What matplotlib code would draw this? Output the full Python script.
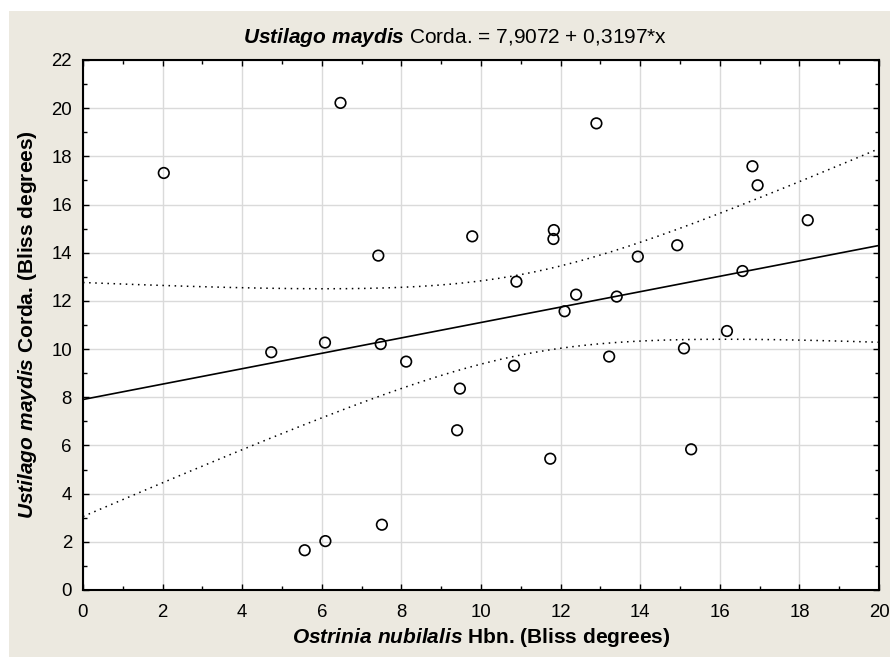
import numpy as np
import matplotlib
matplotlib.use("Agg")
import matplotlib.pyplot as plt
from matplotlib.patches import Rectangle
from matplotlib.ticker import MultipleLocator

# ---- data ----
x_ostrinia = [2.03, 6.47, 7.42, 4.73, 6.08, 7.48, 8.12, 5.57, 6.09, 7.51,
              9.78, 9.47, 9.40, 10.89, 10.83, 11.83, 11.82, 12.10, 11.74, 12.39,
              12.90, 13.41, 13.94, 13.22, 14.93, 15.10, 15.28, 16.18, 16.57, 16.82,
              16.95, 18.21]
y_ustilago = [17.31, 20.22, 13.88, 9.87, 10.27, 10.21, 9.48, 1.65, 2.03, 2.71,
              14.68, 8.36, 6.63, 12.80, 9.31, 14.94, 14.57, 11.57, 5.45, 12.26,
              19.37, 12.18, 13.84, 9.69, 14.31, 10.03, 5.84, 10.75, 13.24, 17.59,
              16.80, 15.35]
intercept = 7.9072
slope = 0.3197
t_crit = 2.042  # t(0.975, df=30)

xticks = [0, 2, 4, 6, 8, 10, 12, 14, 16, 18, 20]
yticks = [0, 2, 4, 6, 8, 10, 12, 14, 16, 18, 20, 22]

plt.rcParams['font.family'] = ['Liberation Sans', 'DejaVu Sans']
plt.rcParams['mathtext.fontset'] = 'custom'
plt.rcParams['mathtext.it'] = 'Liberation Sans:italic:bold'
plt.rcParams['mathtext.rm'] = 'Liberation Sans'
plt.rcParams['mathtext.bf'] = 'Liberation Sans:bold'

W, H = 890, 657
fig = plt.figure(figsize=(W / 100, H / 100), dpi=100, facecolor='white')
bg = '#ECE9E0'
fig.patches.append(Rectangle((9 / W, 0), 1 - 9 / W, (H - 11) / H,
                             transform=fig.transFigure, facecolor=bg,
                             edgecolor='none', zorder=-10))

left, right, top, bottom = 83, 879, 60, 590
ax = fig.add_axes([left / W, (H - bottom) / H, (right - left) / W, (bottom - top) / H])
ax.set_facecolor('white')

xa = np.array(x_ostrinia)
ya = np.array(y_ustilago)
n = len(xa)
resid = ya - (intercept + slope * xa)
s = np.sqrt(np.sum(resid ** 2) / (n - 2))
xm = xa.mean()
sxx = np.sum((xa - xm) ** 2)
xs = np.linspace(0, 20, 200)
yfit = intercept + slope * xs
half = t_crit * s * np.sqrt(1 / n + (xs - xm) ** 2 / sxx)

ax.plot(xs, yfit, color='black', lw=1.2, zorder=3)
ax.plot(xs, yfit + half, color='black', lw=1.1, ls=(0, (1, 3)), zorder=3)
ax.plot(xs, yfit - half, color='black', lw=1.1, ls=(0, (1, 3)), zorder=3)
ax.scatter(xa, ya, s=58, facecolors='none', edgecolors='black', linewidths=1.2, zorder=4)

ax.set_xlim(0, 20)
ax.set_ylim(0, 22)
ax.set_xticks(xticks)
ax.set_yticks(yticks)
ax.xaxis.set_minor_locator(MultipleLocator(1))
ax.yaxis.set_minor_locator(MultipleLocator(1))
ax.grid(True, which='major', color='#DADADA', lw=1, zorder=0)
ax.set_axisbelow(True)
ax.tick_params(which='both', direction='in', top=True, right=True, labelsize=13.4,
               colors='black', width=1)
ax.tick_params(which='major', length=4)
ax.tick_params(which='minor', length=3)
ax.tick_params(axis='x', which='major', pad=10)
ax.tick_params(axis='y', which='major', pad=8)
for sp in ax.spines.values():
    sp.set_linewidth(1.5)
    sp.set_color('black')

ax.set_title(r'$\mathit{Ustilago\ maydis}$ Corda. = 7,9072 + 0,3197*x',
             fontsize=15, pad=12, x=0.467)
ax.set_xlabel(r'$\mathit{Ostrinia\ nubilalis}$ Hbn. (Bliss degrees)',
              fontsize=15, fontweight='bold')
ax.set_ylabel(r'$\mathit{Ustilago\ maydis}$ Corda. (Bliss degrees)',
              fontsize=15, fontweight='bold')
ax.xaxis.set_label_coords(0.5, -0.068)
ax.yaxis.set_label_coords(-0.055, 0.5)

fig.savefig('out.png', dpi=100, facecolor=fig.get_facecolor())
